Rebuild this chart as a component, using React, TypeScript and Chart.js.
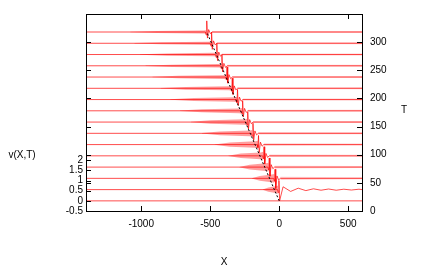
import React, { useEffect, useRef } from "react";
import { Chart, registerables } from "chart.js";

Chart.register(...registerables);

// ---- data ----
const times = [0, 20, 40, 60, 80, 100, 120, 140, 160, 180, 200, 220, 240, 260, 280, 300];
// T units per v unit in the stacked (waterfall) display
const K = 36;
// X position of the main spike of each profile
const frontX = [0, -2, -30, -72, -110, -150, -190, -228, -265, -302, -340, -378, -415, -452, -490, -525];
// height of the spike above the baseline (v)
const spikeUp = [0, 0.45, 0.45, 0.45, 0.45, 0.45, 0.5, 0.5, 0.5, 0.5, 0.5, 0.5, 0.55, 0.55, 0.55, 0.55];
// depth of the trough beside the spike (v)
const spikeDown = [0, 0.55, 0.5, 0.45, 0.4, 0.4, 0.35, 0.35, 0.3, 0.3, 0.3, 0.3, 0.3, 0.3, 0.3, 0.3];
// left end of the dense wave packet (X)
const packetStart = [0, -120, -200, -290, -370, -470, -560, -640, -720, -790, -860, -920, -970, -1010, -1050, -1080];
// half-height of the dense packet next to the spike (v)
const packetAmp = [0, 0.2, 0.22, 0.22, 0.2, 0.19, 0.17, 0.16, 0.14, 0.13, 0.12, 0.11, 0.1, 0.1, 0.09, 0.09];
// half-height of the ripples to the right of the spike (v), near and far
const rippleNear = [0, 0.05, 0.08, 0.07, 0.06, 0.06, 0.06, 0.05, 0.05, 0.05, 0.05, 0.05, 0.05, 0.05, 0.05, 0.05];
const rippleFar = [0, 0.03, 0.05, 0.05, 0.05, 0.05, 0.05, 0.05, 0.05, 0.05, 0.05, 0.05, 0.05, 0.05, 0.05, 0.05];
// long ripples behind the dip of the T = 20 profile
const tail20X = [30, 85, 140, 195, 250, 305, 360, 415, 470, 525, 580];
const tail20V = [0.14, -0.09, 0.07, -0.05, 0.04, -0.03, 0.03, -0.03, 0.02, -0.02, 0.02];
// black dashed track of the spike
const trackX = [0, -525];
const trackT = [0, 300];

const xTicks = [-1000, -500, 0, 500];
const vTicks = [-0.5, 0, 0.5, 1, 1.5, 2];
const tTicks = [0, 50, 100, 150, 200, 250, 300];

const X_MIN = -1400;
const X_MAX = 600;
const T_MAX = 350;
const V_MIN = -0.5;
const V_MAX = V_MIN + T_MAX / K;

const LINE = "rgba(255,0,0,0.7)";
const FONT = "'Liberation Sans', Arial, sans-serif";

function buildDatasets() {
  const ds: any[] = [];
  ds.push({
    data: trackX.map((x, i) => ({ x, y: trackT[i] / K })),
    borderColor: "#000000",
    borderWidth: 1,
    borderDash: [2, 2],
    pointRadius: 0,
    fill: false,
  });
  times.forEach((t, i) => {
    const off = t / K;
    const f = frontX[i];
    let pts: { x: number; y: number }[];
    if (i === 0) {
      pts = [
        { x: X_MIN, y: 0 },
        { x: X_MAX, y: 0 },
      ];
    } else {
      pts = [
        { x: X_MIN, y: 0 },
        { x: f - 10, y: 0 },
        { x: f - 4, y: -0.15 },
        { x: f, y: spikeUp[i] },
        { x: f + 5, y: -spikeDown[i] },
      ];
      if (i === 1) {
        tail20X.forEach((dx, k) => pts.push({ x: f + dx, y: tail20V[k] }));
      } else {
        pts.push({ x: f + 14, y: 0.12 });
        pts.push({ x: f + 26, y: -0.08 });
        pts.push({ x: f + 38, y: 0 });
      }
      pts.push({ x: X_MAX, y: 0 });
    }
    ds.push({
      data: pts.map((p) => ({ x: p.x, y: p.y + off })),
      borderColor: LINE,
      borderWidth: 1,
      pointRadius: 0,
      fill: false,
    });
    if (i > 0) {
      // dense packet envelope
      const a = packetAmp[i];
      const start = packetStart[i];
      const px = [start, start + (f - start) * 0.35, f - 25, f - 4];
      const pa = [0.01, a * 0.55, a * 0.85, a];
      ds.push({
        data: px.map((x, k) => ({ x, y: off + pa[k] })),
        borderWidth: 0,
        pointRadius: 0,
        backgroundColor: "rgba(255,0,0,0.38)",
        fill: "+1",
      });
      ds.push({
        data: px.map((x, k) => ({ x, y: off - pa[k] })),
        borderWidth: 0,
        pointRadius: 0,
        fill: false,
      });
      if (i > 1) {
        const rx = [f + 38, X_MAX];
        const ra = [rippleNear[i], rippleFar[i]];
        ds.push({
          data: rx.map((x, k) => ({ x, y: off + ra[k] })),
          borderWidth: 0,
          pointRadius: 0,
          backgroundColor: "rgba(255,0,0,0.18)",
          fill: "+1",
        });
        ds.push({
          data: rx.map((x, k) => ({ x, y: off - ra[k] })),
          borderWidth: 0,
          pointRadius: 0,
          fill: false,
        });
      }
    }
  });
  return ds;
}

const framePlugin = {
  id: "gnuframe",
  afterDatasetsDraw(chart: any) {
    const { ctx, chartArea, scales } = chart;
    const { left, right, top, bottom } = chartArea;
    const TL = 5;
    ctx.save();
    ctx.strokeStyle = "#000";
    ctx.lineWidth = 1;
    ctx.beginPath();
    xTicks.forEach((v) => {
      const px = Math.round(scales.x.getPixelForValue(v)) + 0.5;
      ctx.moveTo(px, bottom);
      ctx.lineTo(px, bottom - TL);
      ctx.moveTo(px, top);
      ctx.lineTo(px, top + TL);
    });
    vTicks.forEach((v) => {
      const py = Math.round(scales.y.getPixelForValue(v)) + 0.5;
      ctx.moveTo(left, py);
      ctx.lineTo(left + TL, py);
    });
    tTicks.forEach((v) => {
      const py = Math.round(scales.yT.getPixelForValue(v)) + 0.5;
      ctx.moveTo(right, py);
      ctx.lineTo(right - TL, py);
      ctx.moveTo(left, py);
      ctx.lineTo(left + TL, py);
    });
    ctx.stroke();
    ctx.strokeRect(Math.round(left) + 0.5, Math.round(top) + 0.5, Math.round(right - left), Math.round(bottom - top));
    ctx.fillStyle = "#000";
    ctx.font = `10px ${FONT}`;
    ctx.textBaseline = "middle";
    ctx.textAlign = "center";
    ctx.fillText("X", (left + right) / 2, 262);
    ctx.fillText("T", 404, 110);
    ctx.fillText("v(X,T)", 22, 155);
    ctx.restore();
  },
};

export default function App() {
  const ref = useRef<HTMLCanvasElement | null>(null);
  useEffect(() => {
    if (!ref.current) return;
    const chart = new Chart(ref.current, {
      type: "line",
      data: { datasets: buildDatasets() },
      options: {
        animation: false,
        responsive: false,
        devicePixelRatio: 1,
        layout: { padding: { top: 9, left: 0, right: 0, bottom: 0 } },
        plugins: { legend: { display: false }, tooltip: { enabled: false } },
        elements: { line: { tension: 0 } },
        scales: {
          x: {
            type: "linear",
            position: "bottom",
            min: X_MIN,
            max: X_MAX,
            grid: { display: false, drawTicks: false },
            border: { display: false },
            afterBuildTicks: (s: any) => {
              s.ticks = xTicks.map((value) => ({ value }));
            },
            afterFit: (s: any) => {
              s.height = 62;
            },
            ticks: {
              color: "#000",
              font: { size: 10, family: FONT },
              padding: 7,
              maxRotation: 0,
              autoSkip: false,
              callback: (v: any) => String(v),
            },
          },
          y: {
            type: "linear",
            position: "left",
            min: V_MIN,
            max: V_MAX,
            grid: { display: false, drawTicks: false },
            border: { display: false },
            afterBuildTicks: (s: any) => {
              s.ticks = vTicks.map((value) => ({ value }));
            },
            afterFit: (s: any) => {
              s.width = 86;
            },
            ticks: {
              color: "#000",
              font: { size: 10, family: FONT },
              padding: 3,
              autoSkip: false,
              callback: (v: any) => String(v),
            },
          },
          yT: {
            type: "linear",
            position: "right",
            min: 0,
            max: T_MAX,
            grid: { display: false, drawTicks: false },
            border: { display: false },
            afterBuildTicks: (s: any) => {
              s.ticks = tTicks.map((value) => ({ value }));
            },
            afterFit: (s: any) => {
              s.width = 74;
            },
            ticks: {
              color: "#000",
              font: { size: 10, family: FONT },
              padding: 8,
              autoSkip: false,
              callback: (v: any) => String(v),
            },
          },
        },
      },
      plugins: [framePlugin],
    });
    return () => chart.destroy();
  }, []);
  return (
    <div style={{ position: "fixed", left: 0, top: 0, width: 436, height: 273, background: "#fff" }}>
      <canvas ref={ref} width={436} height={273} style={{ display: "block" }} />
    </div>
  );
}
